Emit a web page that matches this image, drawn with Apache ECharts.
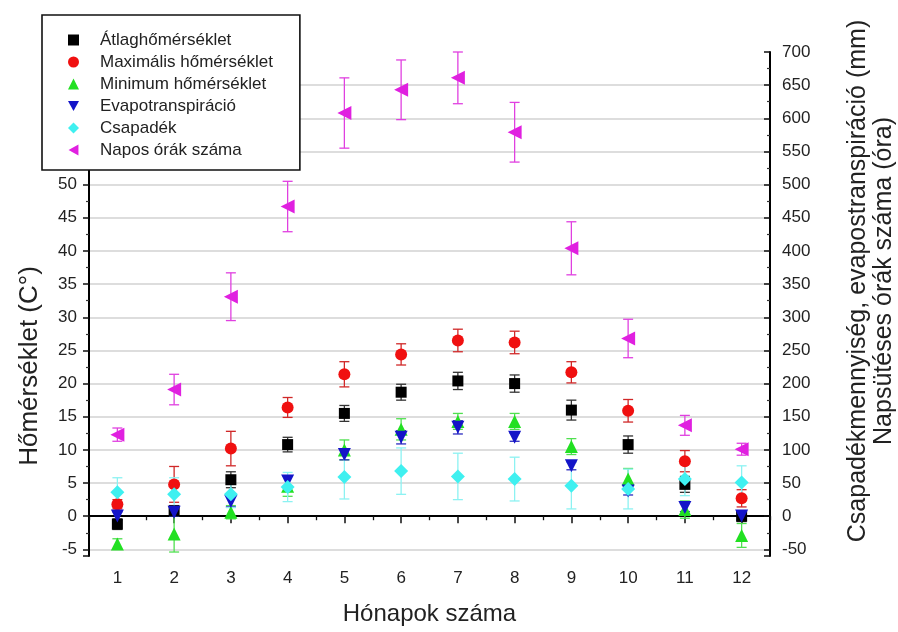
<!DOCTYPE html>
<html><head><meta charset="utf-8">
<script src="https://cdn.jsdelivr.net/npm/echarts@6/dist/echarts.min.js"></script>
<style>html,body{margin:0;padding:0;background:#fff}#c{width:898px;height:632px}</style>
</head><body><div id="c"></div>
<script>
// ---- data ----
const months = ['1','2','3','4','5','6','7','8','9','10','11','12'];
// left axis (°C)
const avgTemp    = [-1.2, 0.8, 5.5, 10.8, 15.5, 18.7, 20.4, 20.0, 16.0, 10.8, 4.8, 0.0];
const avgTempErr = [0.8, 0.8, 1.2, 1.1, 1.2, 1.2, 1.3, 1.3, 1.5, 1.3, 1.2, 0.8];
const maxTemp    = [1.8, 4.8, 10.2, 16.4, 21.4, 24.4, 26.5, 26.2, 21.7, 15.9, 8.3, 2.7];
const maxTempErr = [0.7, 2.7, 2.6, 1.5, 1.9, 1.6, 1.7, 1.7, 1.6, 1.7, 1.6, 1.3];
const minTemp    = [-4.2, -2.7, 0.6, 4.5, 10.0, 13.1, 14.3, 14.3, 10.5, 5.6, 1.0, -2.9];
const minTempErr = [0.8, 2.7, 1.0, 1.5, 1.5, 1.6, 1.2, 1.2, 1.2, 1.6, 1.3, 1.8];
// right axis (mm / óra)
const evapo      = [0.5, 6, 22, 53, 93, 119, 134, 119, 76, 38, 13, 0.5];
const evapoErr   = [6, 6, 8, 8, 8, 10, 10, 6, 6, 6, 6, 6];
const precip     = [36, 33, 33, 44, 59, 68, 60, 56, 46, 41, 56, 51];
const precipErr  = [22, 25, 20, 22, 33, 35, 35, 33, 35, 30, 25, 25];
const sunHours   = [123, 191, 331, 467, 608, 643, 661, 579, 404, 268, 137, 101];
const sunHoursErr= [10, 23, 36, 38, 53, 45, 39, 45, 40, 29, 15, 9];

const names = ['Átlaghőmérséklet','Maximális hőmérséklet','Minimum hőmérséklet','Evapotranspiráció','Csapadék','Napos órák száma'];
const FONT = '"Liberation Sans", Arial, sans-serif';

function errorSeries(vals, errs, color, yAxisIndex) {
  return {
    type: 'custom', xAxisIndex: 0, yAxisIndex: yAxisIndex, silent: true, z: 2,
    data: vals.map((v, i) => [i, v - errs[i], v + errs[i]]),
    encode: { x: 0, y: [1, 2] },
    renderItem: function (params, api) {
      const lo = api.coord([api.value(0), api.value(1)]);
      const hi = api.coord([api.value(0), api.value(2)]);
      const hw = 5;
      const st = { stroke: color, lineWidth: 1.3, fill: null };
      return { type: 'group', children: [
        { type: 'line', shape: { x1: lo[0], y1: lo[1], x2: hi[0], y2: hi[1] }, style: st },
        { type: 'line', shape: { x1: lo[0] - hw, y1: lo[1], x2: lo[0] + hw, y2: lo[1] }, style: st },
        { type: 'line', shape: { x1: hi[0] - hw, y1: hi[1], x2: hi[0] + hw, y2: hi[1] }, style: st }
      ]};
    }
  };
}
function pointSeries(name, vals, color, symbol, size, yAxisIndex) {
  return { type: 'scatter', name: name, data: vals, xAxisIndex: 0, yAxisIndex: yAxisIndex,
    symbol: symbol, symbolSize: size, z: 3, itemStyle: { color: color, opacity: 1 } };
}
const downTri = 'path://M0,0 L10,0 L5,9 Z';
const leftTri = 'path://M0,5 L9,0 L9,10 Z';

const chart = echarts.init(document.getElementById('c'), null, { renderer: 'canvas' });
chart.setOption({
  backgroundColor: '#fff',
  animation: false,
  textStyle: { fontFamily: FONT },
  grid: { left: 89, right: 128, top: 52, bottom: 76, containLabel: false },
  legend: {
    data: names, orient: 'vertical', left: 42, top: 15,
    padding: [16, 27, 11, 26], itemGap: 4, itemWidth: 11, itemHeight: 11,
    backgroundColor: '#fff', borderColor: '#111', borderWidth: 1.6, borderRadius: 0,
    textStyle: { fontSize: 17, color: '#222', fontFamily: FONT, lineHeight: 18, padding: [0, 0, 0, 16] },
    z: 10
  },
  xAxis: [{
    type: 'category', data: months, boundaryGap: true, position: 'bottom',
    axisLine: { show: true, lineStyle: { color: '#000', width: 2 } },
    axisTick: { show: true, alignWithLabel: true, length: 7, lineStyle: { color: '#111', width: 1.5 } },
    axisLabel: { fontSize: 17, color: '#222', margin: 14, fontFamily: FONT },
    splitLine: { show: false },
    name: 'Hónapok száma', nameLocation: 'middle', nameGap: 46,
    nameTextStyle: { fontSize: 24, color: '#222', fontFamily: FONT }
  }, {
    type: 'category', data: months, boundaryGap: true, position: 'bottom',
    axisLine: { show: false },
    axisTick: { show: true, alignWithLabel: false, length: 4, lineStyle: { color: '#111', width: 1.3 } },
    axisLabel: { show: false }, splitLine: { show: false }
  }],
  yAxis: [{
    type: 'value', position: 'left', min: -6, max: 70, splitNumber: 15, minInterval: 5, maxInterval: 5,
    axisLine: { show: true, lineStyle: { color: '#000', width: 2 } },
    axisTick: { show: true, inside: false, length: 6, lineStyle: { color: '#111', width: 1.5 } },
    minorTick: { show: true, splitNumber: 2, length: 3, lineStyle: { color: '#333', width: 1.2 } },
    axisLabel: { fontSize: 17, color: '#222', margin: 12, fontFamily: FONT,
      formatter: v => (Math.abs(v % 5) < 1e-9 && v <= 50) ? String(v) : '' },
    splitLine: { show: true, showMinLine: false, showMaxLine: false, lineStyle: { color: '#d2d2d2', width: 1.5 } }
  }, {
    type: 'value', position: 'right', min: -60, max: 700, splitNumber: 15, minInterval: 50, maxInterval: 50,
    axisLine: { show: true, lineStyle: { color: '#000', width: 2 } },
    axisTick: { show: true, inside: true, length: 6, lineStyle: { color: '#111', width: 1.5 } },
    minorTick: { show: true, splitNumber: 2, length: 3, lineStyle: { color: '#333', width: 1.2 } },
    axisLabel: { fontSize: 17, color: '#222', margin: 12, fontFamily: FONT,
      formatter: v => (Math.abs(v % 50) < 1e-9) ? String(v) : '' },
    splitLine: { show: false }
  }],
  graphic: [{
    type: 'text', x: 30, y: 366, rotation: Math.PI / 2,
    style: { text: 'Hőmérséklet (C°)', font: '26px ' + FONT, fill: '#222', align: 'center', verticalAlign: 'middle' }
  }, {
    type: 'text', x: 871, y: 281, rotation: Math.PI / 2,
    style: { text: 'Csapadékmennyiség, evapostranspiráció (mm)\nNapsütéses órák száma (óra)',
      font: '25px ' + FONT, fill: '#222', align: 'center', verticalAlign: 'middle', lineHeight: 26 }
  }],
  series: [
    errorSeries(avgTemp, avgTempErr, '#333333', 0),
    errorSeries(maxTemp, maxTempErr, '#d02828', 0),
    errorSeries(minTemp, minTempErr, '#50e050', 0),
    errorSeries(evapo, evapoErr, '#2a2ac0', 1),
    errorSeries(precip, precipErr, '#8cf2f2', 1),
    errorSeries(sunHours, sunHoursErr, '#e040e0', 1),
    pointSeries(names[0], avgTemp, '#000000', 'rect', 11, 0),
    pointSeries(names[1], maxTemp, '#f01010', 'circle', 12, 0),
    pointSeries(names[2], minTemp, '#22e022', 'triangle', 13, 0),
    pointSeries(names[3], evapo, '#1414c8', downTri, 13, 1),
    pointSeries(names[4], precip, '#3ff0f0', 'diamond', 14, 1),
    pointSeries(names[5], sunHours, '#e020e0', leftTri, 14, 1)
  ]
});
</script></body></html>
